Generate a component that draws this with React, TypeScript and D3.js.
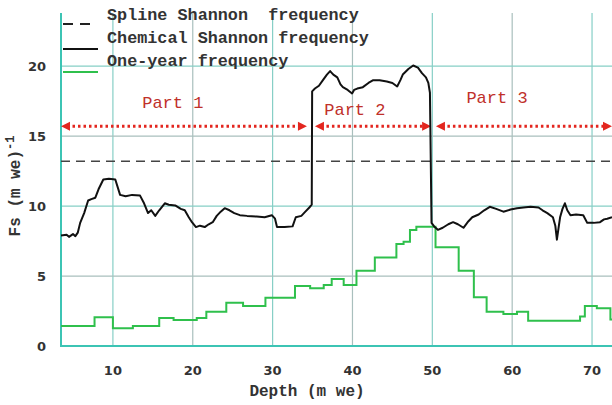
import React from "react";
import * as d3 from "d3";

// ---- data ----
const chemDepth = [3.5,4.2,4.5,5.0,5.3,5.6,5.9,6.4,6.9,7.3,7.8,8.2,8.8,9.5,10.3,10.9,11.6,12.4,13.4,13.9,14.4,14.8,15.3,15.8,16.5,17.0,17.8,18.5,19.0,19.5,19.9,20.4,20.9,21.5,22.0,22.5,23.0,23.5,24.0,24.6,25.2,25.9,26.8,28.0,29.0,29.9,30.3,30.55,31.5,32.5,32.9,33.6,34.1,34.6,34.9,34.95,35.3,35.8,36.3,36.8,37.2,37.6,38.1,38.5,38.8,39.4,39.95,40.2,40.6,41.3,42.0,42.6,43.4,44.3,45.0,45.6,46.0,46.3,47.0,47.6,48.2,48.7,49.2,49.5,49.7,49.9,50.3,50.7,51.3,52.0,52.6,53.2,53.9,54.5,55.0,55.8,56.5,57.2,58.0,58.9,59.8,60.6,61.4,62.3,63.3,63.8,64.4,65.1,65.4,65.6,65.8,66.0,66.3,66.6,66.9,67.3,68.0,68.9,69.4,70.2,71.0,71.5,71.9,72.5];
const chemValue = [7.9,7.95,7.8,8.0,7.85,8.1,8.8,9.5,10.4,10.5,10.6,11.2,11.9,11.95,11.9,10.8,10.7,10.8,10.75,10.2,9.5,9.7,9.3,9.7,10.2,10.1,10.05,9.8,9.7,9.2,8.85,8.5,8.6,8.5,8.7,8.85,9.3,9.6,9.85,9.7,9.5,9.35,9.3,9.25,9.2,9.35,9.1,8.5,8.5,8.55,9.2,9.3,9.6,9.9,10.1,18.2,18.4,18.6,19.0,19.4,19.65,19.4,19.2,18.7,18.5,18.3,18.05,18.3,18.4,18.5,18.8,19.0,19.0,18.9,18.8,18.55,19.0,19.4,19.8,20.05,19.9,19.5,19.2,18.8,18.1,8.8,8.5,8.3,8.45,8.7,8.85,8.7,8.45,8.9,9.2,9.4,9.7,9.95,9.8,9.6,9.75,9.85,9.9,9.95,9.9,9.7,9.5,9.2,8.6,7.6,8.4,9.2,9.8,10.2,9.7,9.35,9.4,9.35,8.8,8.8,8.85,9.05,9.1,9.2];

const yearDepth = [3.5,7.7,10.0,12.5,15.8,17.6,20.5,21.7,24.2,26.3,29.1,32.8,34.7,36.4,37.4,38.9,40.5,42.8,45.5,46.4,47.2,48.0,50.4,53.3,55.2,56.8,58.9,60.6,62.0,68.5,69.1,70.6,72.3,72.5];
const yearValue = [1.43,2.05,1.26,1.43,2.0,1.86,2.0,2.45,3.1,2.86,3.45,4.28,4.12,4.36,4.79,4.36,5.38,6.33,7.29,7.45,8.29,8.52,7.05,5.38,3.48,2.45,2.29,2.45,1.81,2.1,2.86,2.69,1.9,1.9];

const splineValue = 13.2;

const partLabels = ["Part 1", "Part 2", "Part 3"];
const partStart = [3.5, 35.3, 50.45];
const partEnd = [34.3, 49.85, 72.5];
const partLabelDepth = [17.5, 40.3, 58.1];
const partLabelValue = [17.4, 16.9, 17.7];
const partArrowValue = 15.7;

const xTicks = [10, 20, 30, 40, 50, 60, 70];
const yTicks = [0, 5, 10, 15, 20];
const legendLabels = ["Spline Shannon  frequency", "Chemical Shannon frequency", "One-year frequency"];

const W = 612, H = 405;
const mono = "'Liberation Mono', 'DejaVu Sans Mono', monospace";
const sans = "'DejaVu Sans', Verdana, sans-serif";

export default function App() {
  const x = d3.scaleLinear().domain([3.5, 72.5]).range([61, 612]);
  const y = d3.scaleLinear().domain([0, 23.8]).range([346, 13]);
  const [x0, x1] = x.range();
  const [y0, y1] = y.range();

  const chemLine = d3.line<number>().x((d, i) => x(chemDepth[i])).y((d) => y(d));
  const yearLine = d3.line<number>().x((d, i) => x(yearDepth[i])).y((d) => y(d)).curve(d3.curveStepAfter);

  const gridColor = (i: number) => (i % 2 === 0 ? "#86cfc6" : "#a9bfbd");
  const red = "#e3261f";

  return (
    <svg width={W} height={H} style={{ position: "absolute", left: 0, top: 0, background: "#fff" }}>
      <rect width={W} height={H} fill="#fff" />
      {/* grid */}
      {xTicks.map((t, i) => (
        <line key={"gx" + t} x1={x(t)} x2={x(t)} y1={y1} y2={y0} stroke={gridColor(i)} strokeWidth={1.2} />
      ))}
      {yTicks.filter((t) => t > 0).map((t, i) => (
        <line key={"gy" + t} x1={x0} x2={x1} y1={y(t)} y2={y(t)} stroke={gridColor(i + 1)} strokeWidth={1.2} />
      ))}
      {/* axes */}
      <line x1={x0} x2={x0} y1={y1} y2={y0 + 1} stroke="#3cc4b4" strokeWidth={2} />
      <line x1={x0} x2={x1} y1={y0} y2={y0} stroke="#3cc4b4" strokeWidth={2.2} />
      {/* tick labels */}
      {xTicks.map((t) => (
        <text key={"xl" + t} x={x(t)} y={375} textAnchor="middle" fontFamily={sans} fontSize={13} fontWeight="bold" fill="#333">{t}</text>
      ))}
      {yTicks.map((t) => (
        <text key={"yl" + t} x={46} y={y(t) + 5} textAnchor="end" fontFamily={sans} fontSize={13} fontWeight="bold" fill="#333">{t}</text>
      ))}
      {/* axis titles */}
      <text x={307} y={396} textAnchor="middle" fontFamily={mono} fontSize={16} fontWeight="bold" fill="#333">Depth (m we)</text>
      <text transform="translate(20,186) rotate(-90)" textAnchor="middle" fontFamily={mono} fontSize={16} fontWeight="bold" fill="#333">
        Fs (m we)<tspan dy={-6} fontSize={12}>-1</tspan>
      </text>
      {/* spline dashed */}
      <line x1={x0} x2={x1} y1={y(splineValue)} y2={y(splineValue)} stroke="#444" strokeWidth={1.5} strokeDasharray="9,6" />
      {/* part arrows */}
      {partLabels.map((p, i) => {
        const xa = x(partStart[i]), xb = x(partEnd[i]), yy = y(partArrowValue);
        return (
          <g key={p}>
            <line x1={xa + 6} x2={xb - 6} y1={yy} y2={yy} stroke={red} strokeWidth={3} strokeDasharray="2.5,3" />
            <path d={`M${xa},${yy} L${xa + 9},${yy - 4.5} L${xa + 9},${yy + 4.5} Z`} fill={red} />
            <path d={`M${xb},${yy} L${xb - 9},${yy - 4.5} L${xb - 9},${yy + 4.5} Z`} fill={red} />
            <text x={x(partLabelDepth[i])} y={y(partLabelValue[i]) + 5} textAnchor="middle" fontFamily={mono} fontSize={17} fill="#c0302a">{p}</text>
          </g>
        );
      })}
      {/* data lines */}
      <path d={yearLine(yearValue) || ""} fill="none" stroke="#2fc04c" strokeWidth={2} />
      <path d={chemLine(chemValue) || ""} fill="none" stroke="#111" strokeWidth={2} strokeLinejoin="round" />
      {/* legend */}
      <line x1={63} x2={97} y1={24} y2={24} stroke="#222" strokeWidth={2} strokeDasharray="10,7" />
      <line x1={63} x2={98} y1={49} y2={49} stroke="#111" strokeWidth={2.2} />
      <line x1={63} x2={98} y1={72} y2={72} stroke="#2fc04c" strokeWidth={2.2} />
      {legendLabels.map((l, i) => (
        <text key={l} x={107} y={20 + i * 23} fontFamily={mono} fontSize={16.8} fontWeight="bold" fill="#333" style={{ whiteSpace: "pre" }}>{l}</text>
      ))}
    </svg>
  );
}
